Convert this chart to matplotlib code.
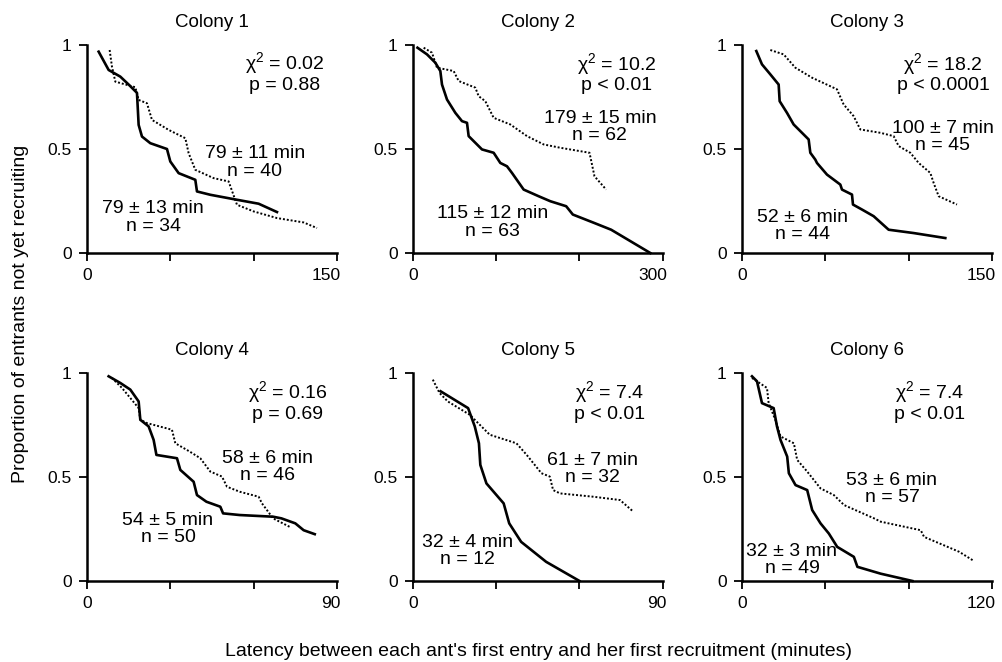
"""Recruitment latency curves for six colonies (solid vs dotted groups)."""

import matplotlib
matplotlib.use("Agg")
import matplotlib.pyplot as plt
from matplotlib.transforms import ScaledTranslation

plt.rcParams["font.family"] = ["Liberation Sans", "DejaVu Sans"]
plt.rcParams["mathtext.fontset"] = "custom"
plt.rcParams["mathtext.rm"] = "Liberation Sans"
plt.rcParams["mathtext.it"] = "Liberation Sans"
plt.rcParams["mathtext.default"] = "regular"

# ---- data ---------------------------------------------------------------
titles = ["Colony 1", "Colony 2", "Colony 3", "Colony 4", "Colony 5", "Colony 6"]
x_max = [150, 300, 150, 90, 90, 120]
chi2 = ["0.02", "10.2", "18.2", "0.16", "7.4", "7.4"]
p_vals = ["p = 0.88", "p < 0.01", "p < 0.0001", "p = 0.69", "p < 0.01", "p < 0.01"]
solid_labels = ["79 ± 13 min\nn = 34", "115 ± 12 min\nn = 63", "52 ± 6 min\nn = 44",
                "54 ± 5 min\nn = 50", "32 ± 4 min\nn = 12", "32 ± 3 min\nn = 49"]
dotted_labels = ["79 ± 11 min\nn = 40", "179 ± 15 min\nn = 62", "100 ± 7 min\nn = 45",
                 "58 ± 6 min\nn = 46", "61 ± 7 min\nn = 32", "53 ± 6 min\nn = 57"]

solid_x = [
    [7, 13, 20, 25, 30, 31, 33, 38, 48, 50, 55, 65, 66, 74, 90, 103, 114],
    [5.6, 17, 27, 33, 35, 41, 51, 59, 65, 67, 75, 83, 97, 105, 113, 119, 133, 151,
     165, 184, 192, 218, 238, 285],
    [8.6, 12, 17, 22, 22.6, 27, 31, 35, 40, 41, 44, 45, 51, 59, 60, 66, 66.6, 72,
     79, 88, 103, 122],
    [7.8, 12, 15.6, 18.6, 19.2, 22.2, 24, 25, 32.4, 33.6, 38.4, 39.6, 43, 48, 49,
     55, 67, 70, 75, 78, 82],
    [10, 19.9, 22.3, 23.8, 24.3, 26.5, 32.7, 34.7, 39, 48, 60],
    [4.8, 7.2, 9.6, 15.2, 16.8, 18.5, 21.7, 22.5, 25.7, 31.3, 33.7, 37.7, 41.7,
     45.7, 53.7, 55.4, 66.6, 81.8],
]
solid_y = [
    [0.968, 0.88, 0.848, 0.81, 0.77, 0.616, 0.56, 0.528, 0.5, 0.44, 0.384, 0.352,
     0.296, 0.28, 0.256, 0.237, 0.197],
    [0.987, 0.955, 0.915, 0.875, 0.81, 0.738, 0.674, 0.634, 0.626, 0.562, 0.53,
     0.498, 0.482, 0.433, 0.417, 0.385, 0.305, 0.273, 0.249, 0.225, 0.185, 0.144,
     0.112, 0.0],
    [0.971, 0.907, 0.859, 0.81, 0.73, 0.674, 0.618, 0.586, 0.546, 0.482, 0.449,
     0.433, 0.377, 0.329, 0.305, 0.281, 0.233, 0.209, 0.177, 0.112, 0.096, 0.072],
    [0.984, 0.952, 0.92, 0.863, 0.775, 0.743, 0.678, 0.606, 0.59, 0.534, 0.477,
     0.413, 0.381, 0.357, 0.325, 0.317, 0.309, 0.301, 0.277, 0.244, 0.225],
    [0.912, 0.831, 0.743, 0.662, 0.558, 0.469, 0.373, 0.277, 0.188, 0.092, 0.0],
    [0.984, 0.96, 0.855, 0.831, 0.743, 0.678, 0.598, 0.518, 0.461, 0.437, 0.341,
     0.277, 0.228, 0.164, 0.116, 0.068, 0.035, 0.0],
]
dotted_x = [
    [13.6, 15, 17, 29, 31, 36, 39, 49, 59, 61, 65, 76, 85, 90, 100, 114, 130, 138],
    [13, 23, 29, 49, 55, 75, 79, 87, 97, 117, 137, 157, 177, 212, 218, 232],
    [17, 25, 32, 42, 57, 61, 67, 71, 83, 91, 94, 101, 106, 113, 115, 118, 129],
    [9, 12.6, 18.6, 19.2, 21.6, 30.6, 31.8, 37, 40.8, 44.4, 48.6, 50.4, 55, 61.8,
     63, 67, 73],
    [7.2, 9.6, 12.6, 20.5, 27.7, 37.3, 41, 46.3, 49.3, 50.5, 53, 65, 74.6, 79.4],
    [4.8, 12, 12.8, 16, 18.5, 24.9, 26.5, 31.3, 37.7, 44.1, 49, 63.4, 66.6, 85.8,
     87.4, 98.7, 104.3, 110.7],
]
dotted_y = [
    [0.976, 0.896, 0.824, 0.797, 0.736, 0.72, 0.64, 0.592, 0.552, 0.48, 0.4, 0.36,
     0.344, 0.232, 0.2, 0.168, 0.147, 0.12],
    [0.987, 0.963, 0.891, 0.875, 0.827, 0.795, 0.754, 0.73, 0.65, 0.618, 0.562,
     0.522, 0.506, 0.482, 0.369, 0.305],
    [0.976, 0.955, 0.891, 0.843, 0.787, 0.714, 0.658, 0.594, 0.578, 0.562, 0.514,
     0.482, 0.433, 0.385, 0.337, 0.273, 0.233],
    [0.976, 0.928, 0.831, 0.775, 0.759, 0.727, 0.662, 0.622, 0.59, 0.526, 0.502,
     0.453, 0.429, 0.405, 0.373, 0.301, 0.26],
    [0.968, 0.904, 0.863, 0.799, 0.703, 0.662, 0.606, 0.518, 0.502, 0.437, 0.421,
     0.405, 0.389, 0.333],
    [0.976, 0.928, 0.855, 0.775, 0.695, 0.662, 0.582, 0.526, 0.445, 0.413, 0.365,
     0.301, 0.285, 0.244, 0.212, 0.164, 0.14, 0.1],
]

# ---- layout (axes fractions for text blocks) ------------------------------
stats_pos = [(0.79, 0.87), (0.816, 0.868), (0.804, 0.868),
             (0.804, 0.865), (0.788, 0.865), (0.752, 0.865)]
dotted_pos = [(0.672, 0.435), (0.748, 0.606), (0.804, 0.558),
              (0.724, 0.548), (0.72, 0.538), (0.60, 0.442)]
solid_pos = [(0.265, 0.17), (0.32, 0.147), (0.244, 0.13),
             (0.324, 0.25), (0.22, 0.144), (0.20, 0.10)]

lefts = [0.0868, 0.412, 0.7405]
bottoms = [0.6178, 0.1224]
W, H = 0.2495, 0.3142

fig = plt.figure(figsize=(10.02, 6.62), dpi=100)

for i in range(6):
    ax = fig.add_axes([lefts[i % 3], bottoms[i // 3], W, H])
    ax.plot(solid_x[i], solid_y[i], color="black", lw=1.9, clip_on=False)
    ax.plot(dotted_x[i], dotted_y[i], color="black", lw=1.4, ls=(0, (1, 1)),
            clip_on=False)

    xm = x_max[i]
    ax.set_xlim(0, xm)
    ax.set_ylim(0, 1)
    ax.set_xticks([0, xm / 3, 2 * xm / 3, xm])
    ax.set_xticklabels(["0", "", "", str(xm)])
    ax.set_yticks([0, 0.5, 1])
    ax.set_yticklabels(["0", "0.5", "1"])
    for side in ("top", "right"):
        ax.spines[side].set_visible(False)
    for side in ("left", "bottom"):
        ax.spines[side].set_linewidth(1.8)
    ax.tick_params(direction="out", length=6, width=1.3, labelsize=12.5, pad=5)
    last = ax.get_xticklabels()[-1]
    last.set_ha("right")
    last.set_transform(last.get_transform()
                       + ScaledTranslation(4 / 100, 0, fig.dpi_scale_trans))
    ax.set_title(titles[i], fontsize=13.5, pad=13)

    ax.text(*stats_pos[i], "χ$^2$ = " + chi2[i] + "\n" + p_vals[i],
            transform=ax.transAxes, ha="center", va="center", fontsize=14,
            linespacing=1.05)
    ax.text(*dotted_pos[i], dotted_labels[i], transform=ax.transAxes,
            ha="center", va="center", fontsize=14, linespacing=1.05)
    ax.text(*solid_pos[i], solid_labels[i], transform=ax.transAxes,
            ha="center", va="center", fontsize=14, linespacing=1.05)

fig.text(0.02, 0.526, "Proportion of entrants not yet recruiting", rotation=90,
         ha="center", va="center", fontsize=14)
fig.text(0.537, 0.016, "Latency between each ant's first entry and her first recruitment (minutes)",
         ha="center", va="center", fontsize=14)

fig.savefig("out.png", dpi=100)
